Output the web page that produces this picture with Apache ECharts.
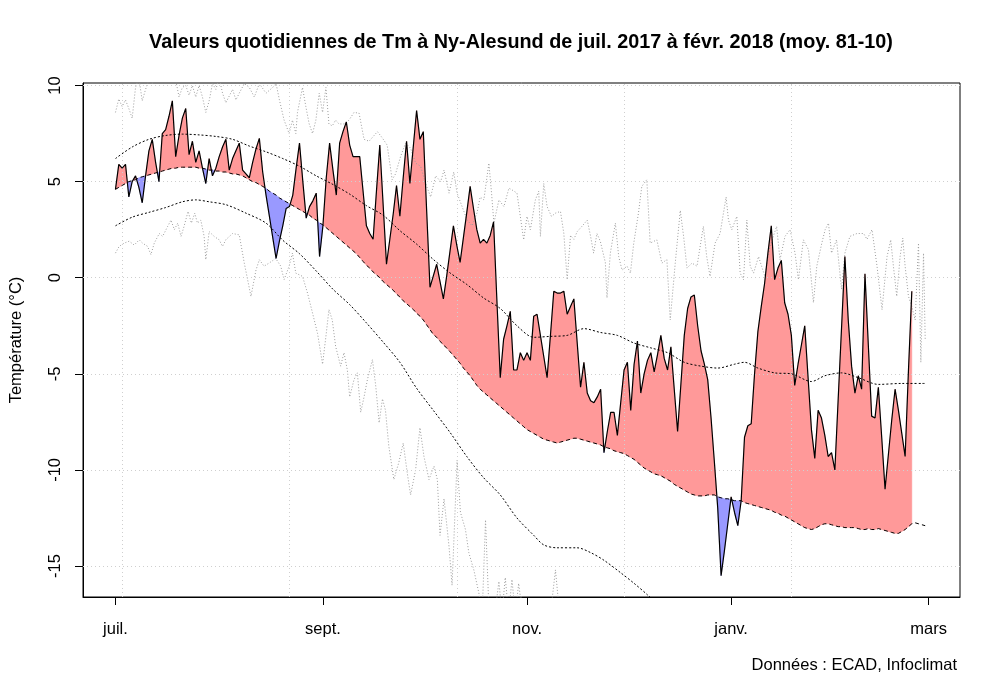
<!DOCTYPE html>
<html><head><meta charset="utf-8">
<script src="https://cdn.jsdelivr.net/npm/echarts@6/dist/echarts.min.js"></script>
<style>html,body{margin:0;padding:0;background:#fff}#c{width:1000px;height:699px}</style>
</head><body><div id="c"></div>
<script>
// x = days since 1 July 2017
const tickDays = [0, 62, 123, 184, 243];
const tickLabels = ['juil.', 'sept.', 'nov.', 'janv.', 'mars'];
const yTicks = [-15, -10, -5, 0, 5, 10];
const gridDays = [2, 52, 102, 152, 202];

// Observed daily Tm (°C), 1 Jul 2017 -> 24 Feb 2018
const tm = [
 4.6, 5.9, 5.7, 5.9, 4.2, 5.0, 5.3, 4.7, 3.9, 5.3,
 6.6, 7.2, 6.0, 5.0, 7.5, 7.7, 8.4, 9.2, 6.3, 7.4,
 8.3, 8.8, 6.4, 7.1, 6.0, 6.6, 5.7, 4.9, 6.2, 5.3,
 5.7, 6.3, 6.8, 7.2, 5.6, 6.2, 6.6, 7.0, 5.6, 5.4,
 5.2, 6.0, 6.7, 7.25, 5.5, 4.3, 3.2, 2.1, 1.0, 1.9,
 2.7, 3.6, 3.7, 4.3, 5.7, 7.0, 5.0, 3.1, 3.7, 4.0,
 4.4, 1.1, 2.7, 5.2, 7.0, 5.6, 4.3, 7.0, 7.6, 8.1,
 6.9, 6.3, 6.3, 6.3, 4.5, 2.7, 2.3, 2.0, 4.5, 6.9,
 3.8, 0.7, 2.0, 3.3, 4.8, 3.2, 5.2, 7.1, 4.9, 6.8,
 8.7, 7.2, 7.6, 3.5, -0.5, 0.1, 0.7, -0.2, -1.1, 0.1,
 1.4, 2.7, 1.7, 0.8, 2.1, 3.4, 4.75, 3.6, 2.5, 1.8,
 2.0, 1.8, 2.2, 2.9, -1.2, -5.2, -3.2, -2.5, -1.75, -4.8,
 -4.8, -3.9, -4.3, -3.9, -4.3, -2.0, -1.9, -3.0, -4.1, -5.2,
 -3.0, -0.7, -0.8, -0.8, -0.7, -1.9, -1.5, -1.1, -3.4, -5.7,
 -4.4, -6.0, -6.4, -6.5, -6.2, -5.8, -9.1, -8.0, -7.0, -7.0,
 -8.2, -6.5, -4.8, -4.4, -6.9, -4.5, -3.3, -6.0, -5.0, -4.3,
 -3.9, -4.9, -4.0, -3.0, -4.2, -4.8, -3.6, -5.8, -8.0, -5.5,
 -3.0, -1.6, -1.0, -0.9, -2.5, -3.8, -4.5, -5.3, -7.3, -9.6,
 -12.0, -15.5, -14.2, -12.8, -11.4, -12.2, -12.9, -11.6, -8.3, -7.7,
 -7.6, -5.0, -2.8, -1.5, -0.3, 1.3, 2.7, -0.1, 0.5, 0.9,
 -1.3, -1.9, -3.0, -5.6, -4.5, -3.5, -2.5, -5.2, -7.9, -9.4,
 -6.9, -7.3, -8.2, -9.3, -9.1, -10.0, -6.3, -2.6, 1.1, -2.2,
 -4.6, -6.0, -5.1, -5.8, 0.2, -3.5, -7.2, -7.3, -5.7, -8.3,
 -11.0, -9.2, -7.4, -5.8, -6.9, -8.1, -9.3, -4.8, -0.7
];

// Normal daily Tm 1981-2010, 1 Jul -> 28 Feb
const normal = [
 4.6, 4.7, 4.8, 4.9, 5.0, 5.05, 5.1, 5.2, 5.25, 5.3, 5.35,
 5.4, 5.45, 5.5, 5.55, 5.6, 5.65, 5.7, 5.7, 5.75, 5.75,
 5.75, 5.75, 5.75, 5.75, 5.7, 5.7, 5.65, 5.6, 5.6, 5.55,
 5.55, 5.5, 5.5, 5.45, 5.4, 5.4, 5.35, 5.3, 5.2, 5.1,
 5.0, 4.95, 4.85, 4.75, 4.65, 4.5, 4.4, 4.3, 4.15, 4.05,
 3.95, 3.85, 3.75, 3.65, 3.55, 3.45, 3.35, 3.25, 3.1, 3.0,
 2.85, 2.75, 2.6, 2.45, 2.3, 2.15, 2.0, 1.85, 1.7, 1.55,
 1.4, 1.25, 1.05, 0.85, 0.65, 0.5, 0.3, 0.15, 0.0, -0.2,
 -0.35, -0.5, -0.65, -0.85, -1.0, -1.2, -1.35, -1.5, -1.65, -1.85,
 -2.0, -2.2, -2.45, -2.7, -2.95, -3.1, -3.3, -3.5, -3.65, -3.85,
 -4.05, -4.25, -4.45, -4.7, -4.9, -5.1, -5.35, -5.6, -5.8, -5.95,
 -6.1, -6.25, -6.4, -6.55, -6.7, -6.85, -7.0, -7.15, -7.3, -7.45,
 -7.6, -7.75, -7.9, -8.0, -8.1, -8.2, -8.3, -8.4, -8.45, -8.5,
 -8.55, -8.6, -8.55, -8.5, -8.45, -8.4, -8.35, -8.35, -8.4, -8.45,
 -8.5, -8.55, -8.6, -8.65, -8.7, -8.8, -8.85, -8.9, -9.0, -9.05,
 -9.1, -9.15, -9.25, -9.35, -9.45, -9.6, -9.75, -9.9, -10.0, -10.1,
 -10.2, -10.25, -10.3, -10.4, -10.5, -10.6, -10.75, -10.85, -10.95, -11.05,
 -11.15, -11.25, -11.3, -11.35, -11.35, -11.35, -11.3, -11.3, -11.3, -11.4,
 -11.45, -11.5, -11.5, -11.55, -11.6, -11.6, -11.6, -11.7, -11.75, -11.8,
 -11.85, -11.9, -11.95, -12.0, -12.05, -12.1, -12.2, -12.25, -12.35, -12.4,
 -12.5, -12.6, -12.7, -12.8, -12.9, -13.0, -13.05, -13.1, -13.05, -12.95,
 -12.85, -12.8, -12.8, -12.85, -12.9, -12.95, -12.95, -13.0, -13.0, -13.0,
 -13.0, -13.05, -13.1, -13.1, -13.05, -13.1, -13.1, -13.05, -13.1, -13.15,
 -13.2, -13.25, -13.3, -13.3, -13.2, -13.1, -12.95, -12.8, -12.75, -12.8, -12.85, -12.9
];

// upper and lower envelope curves (dashed), [day, °C]
const upperCurve = [[0,6.2],[5,6.8],[10,7.2],[15,7.4],[20,7.47],[25,7.43],[30,7.35],[35,7.2],[40,6.85],[45,6.55],[50,6.2],[55,5.8],[60,5.3],[65,4.85],[70,4.35],[75,3.75],[80,3.25],[85,2.45],[90,1.75],[95,0.95],[100,0.25],[105,-0.35],[110,-1.05],[115,-1.6],[120,-2.5],[125,-3.1],[130,-3.05],[135,-3.0],[140,-2.65],[145,-2.85],[150,-3.0],[155,-3.4],[160,-3.65],[165,-3.9],[170,-4.4],[175,-4.6],[180,-4.7],[185,-4.5],[188,-4.4],[192,-4.7],[197,-4.95],[202,-5.0],[208,-5.4],[212,-5.1],[217,-4.95],[222,-5.2],[228,-5.55],[235,-5.5],[242,-5.5]];
const lowerCurve = [[0,2.7],[5,3.15],[10,3.4],[15,3.65],[20,3.95],[24,4.05],[28,3.95],[33,3.8],[39,3.36],[45,2.84],[50,1.95],[55,1.25],[60,0.35],[65,-0.6],[70,-1.4],[75,-2.35],[80,-3.35],[85,-4.4],[90,-5.75],[95,-6.9],[100,-8.05],[105,-9.3],[110,-10.4],[115,-11.3],[120,-12.5],[125,-13.4],[128,-13.9],[132,-14.05],[138,-14.05],[142,-14.3],[146,-14.7],[151,-15.35],[155,-15.9],[159,-16.5],[165,-17.5]];

// daily records (dotted grey), [day, °C]
const recordMax = [[0,8.6],[1,9.3],[2,8.9],[3,9.25],[4,8.8],[5,8.3],[6,9.9],[7,10.4],[8,9.2],[9,9.8],[10,10.3],[11,10.1],[12,10.5],[13,10.3],[14,10.8],[15,10.4],[16,10.9],[17,10.6],[18,10.3],[19,9.4],[20,9.9],[21,10.0],[22,9.5],[23,10.0],[24,9.4],[25,10.0],[26,9.4],[27,8.6],[28,9.2],[29,10.1],[30,9.8],[31,10.4],[32,9.6],[33,9.1],[35,9.8],[36,9.25],[37,9.6],[38.5,10.1],[40,9.9],[41.5,9.4],[43,10.1],[45,9.6],[47,9.9],[48,10.1],[49,9.25],[50.4,8.2],[51.9,7.5],[52.9,8.2],[53.9,7.5],[54.4,8.6],[55.9,9.9],[56.9,8.9],[57.9,8.0],[58.9,7.5],[59.9,8.2],[60.9,9.6],[61.9,8.6],[62.9,9.9],[63.8,8.0],[64.8,7.9],[65.8,8.2],[66.8,8.0],[68.3,8.0],[69.8,8.2],[71.3,8.6],[72.8,8.56],[74.3,7.2],[75.8,7.1],[77.3,7.4],[78.3,7.6],[79.8,7.26],[81.2,6.9],[82.7,5.1],[83.7,5.4],[85.2,6.3],[86.7,7.0],[88.2,6.74],[89.7,5.96],[91.2,5.8],[92.7,4.9],[94.2,4.2],[95.7,5.3],[97.2,5.0],[98.2,5.6],[99.7,4.4],[101.1,5.5],[102.1,4.4],[103.6,3.7],[105.1,3.0],[106.6,2.7],[108.1,3.4],[109,4.2],[110.1,4.05],[111.6,5.96],[112.4,4.4],[113.1,2.84],[114.6,4.05],[116.1,3.7],[117.6,4.66],[118.5,4.57],[120,4.4],[121,3.19],[122,1.97],[123,3.19],[124,2.5],[125.5,4.05],[126.5,4.5],[127,2.15],[128,4.9],[129,3.7],[130.3,3.19],[131.5,3.36],[133,3.45],[134,2.3],[135,-0.1],[136,2.2],[137,2.0],[138,2.4],[139.4,2.67],[141,3.0],[142,2.15],[142.9,1.28],[143.9,2.3],[144.9,1.9],[146.4,0.8],[146.9,-1.05],[147.9,1.28],[149.4,2.84],[150.4,1.1],[151.4,0.4],[152.9,0.6],[153.9,0.24],[154.9,1.8],[156.3,3.36],[157.3,4.75],[158.8,5.1],[159.8,1.8],[161.8,1.97],[163.3,0.76],[164.8,0.94],[165.8,-2.2],[167.3,0.76],[168.8,3.5],[169.8,2.15],[170.8,0.5],[172.3,0.76],[173.8,0.6],[175.7,2.67],[176.7,1.1],[177.7,0.07],[179.2,1.8],[180.7,2.3],[182.5,4.2],[183.2,3.0],[184.2,2.5],[185.7,3.19],[186.7,0.24],[187.7,-0.1],[188.7,3.0],[189.7,0.6],[190.7,0.24],[192.2,1.1],[193.1,0.6],[194.1,0.07],[195.6,1.63],[197.6,2.67],[198.6,0.94],[200.1,2.15],[201.6,2.5],[203.1,1.28],[204.1,-0.1],[205.6,1.97],[207.1,1.46],[208.6,-1.3],[209.6,0.6],[211.1,1.8],[212.1,2.5],[213.1,2.84],[214,1.28],[215.5,1.97],[217,-0.6],[218,1.28],[219.5,2.15],[221.6,2.3],[223.6,2.3],[224.6,2.0],[226.1,2.5],[227.6,0.6],[229.1,-1.66],[230.6,1.1],[231.7,1.97],[232.5,0.6],[233.5,-0.97],[234.5,1.1],[235.3,2.06],[236,0.6],[237,-0.97],[238,-1.5],[239,-2.2],[240,1.8],[240.7,-4.4],[241.5,1.28],[242,-3.2]];
const recordMin = [[0,1.28],[1.1,1.63],[2.6,1.8],[4.1,1.9],[5.6,1.7],[7.1,1.97],[8.1,1.8],[9.6,1.63],[10.6,1.2],[11.6,1.8],[13.1,2.3],[14.1,2.15],[15.6,2.67],[16.6,3.0],[17.6,2.5],[18.6,2.84],[19.6,2.15],[20.5,2.67],[21.7,3.45],[22.7,2.84],[23.7,3.36],[24.5,2.84],[25.5,3.0],[26.5,2.15],[27,0.94],[28,2.4],[29.5,2.15],[31,1.97],[32,1.63],[33,1.98],[35,2.3],[37,2.23],[38.5,0.76],[40.5,-0.97],[42,0.4],[43,0.94],[44.4,0.6],[45.9,0.76],[47.9,1.0],[49.4,0.6],[50.4,-0.1],[51.9,0.6],[52.9,1.28],[53.9,0.24],[55.9,0.07],[57.4,-0.8],[58.9,-1.84],[60.4,-2.9],[61.9,-4.5],[62.9,-3.05],[63.8,-1.66],[64.8,-2.2],[65.8,-3.57],[67.3,-4.6],[68.3,-3.9],[69.3,-4.8],[70,-6.2],[71.3,-5.3],[72.3,-4.95],[73.3,-7.0],[74.3,-6.2],[75.3,-5.3],[76.8,-4.26],[77.8,-5.65],[78.8,-7.55],[79.8,-6.3],[80.7,-6.9],[81.7,-8.77],[83.2,-10.5],[84.7,-9.6],[86,-8.6],[87.2,-10.15],[88.2,-11.3],[89.7,-10.0],[91,-7.8],[92.2,-9.3],[93.7,-10.5],[95.2,-9.8],[96.2,-10.5],[97,-13.4],[98.2,-11.5],[99.7,-14.0],[100.6,-16.0],[102.1,-9.5],[103.1,-12.2],[104.6,-13.1],[105.6,-14.3],[107.1,-15.2],[108.6,-16.4],[109.6,-17.5],[110.6,-12.6],[111.6,-17.2],[113,-18],[114.6,-15.8],[115.5,-17.5],[116.5,-15.6],[117.5,-17.5],[118.5,-15.7],[119.5,-17.5],[120.5,-15.9],[122,-18],[126,-19],[130,-17.5],[131.5,-15.2],[133,-18],[137,-20]];

const RED = '#FF9999', BLUE = '#9999FF';

// One item draws the whole anomaly band: runs of same sign merged into single polygons
function renderFill(params, api) {
  if (params.dataIndex !== 0) return null;
  const n = tm.length;
  const diff = k => { const d = tm[k] - normal[k]; return Math.abs(d) < 1e-9 ? 0 : d; };
  const polys = [];
  let top = [[0, tm[0]]], bot = [[0, normal[0]]];
  let up = diff(0) !== 0 ? diff(0) > 0 : null;
  const close = () => {
    if (top.length + bot.length >= 3) polys.push({ pts: top.concat(bot.slice().reverse()), up: up !== false });
  };
  for (let i = 0; i < n - 1; i++) {
    const a0 = tm[i], a1 = tm[i + 1], n1 = normal[i + 1];
    const d0 = diff(i), d1 = diff(i + 1);
    if (d0 * d1 < 0) {
      const f = d0 / (d0 - d1);
      const xc = i + f, yc = a0 + f * (a1 - a0);
      top.push([xc, yc]);
      up = d0 > 0;
      close();
      top = [[xc, yc], [i + 1, a1]];
      bot = [[i + 1, n1]];
      up = d1 > 0;
    } else {
      top.push([i + 1, a1]);
      bot.push([i + 1, n1]);
      if (up === null && d1 !== 0) up = d1 > 0;
      if (d1 === 0) {
        close();
        top = [[i + 1, a1]];
        bot = [[i + 1, n1]];
        up = null;
      }
    }
  }
  close();
  return {
    type: 'group',
    children: polys.map(p => ({
      type: 'polygon', silent: true,
      shape: { points: p.pts.map(q => api.coord(q)) },
      style: { fill: p.up ? RED : BLUE, stroke: p.up ? RED : BLUE, lineWidth: 0.5 }
    }))
  };
}

const FONT = '"Liberation Sans", Arial, sans-serif';
const chart = echarts.init(document.getElementById('c'), null, { renderer: 'canvas' });
chart.setOption({
  animation: false,
  backgroundColor: '#ffffff',
  grid: { left: 82, right: 40, top: 83, bottom: 102, show: true, borderColor: '#000', borderWidth: 1, backgroundColor: 'transparent' },
  graphic: [
    { type: 'text', x: 521, y: 43, style: { text: 'Valeurs quotidiennes de Tm à Ny-Alesund de juil. 2017 à févr. 2018 (moy. 81-10)', font: 'bold 19.8px ' + FONT, fill: '#000', align: 'center', verticalAlign: 'middle', textAlign: 'center', textVerticalAlign: 'middle' } },
    { type: 'text', x: 957, y: 665, style: { text: 'Données : ECAD, Infoclimat', font: '16.5px ' + FONT, fill: '#000', align: 'right', verticalAlign: 'middle', textAlign: 'right', textVerticalAlign: 'middle' } }
  ],
  xAxis: {
    type: 'value', min: -9.7, max: 252.4,
    axisLine: { show: true, onZero: false, lineStyle: { color: '#000', width: 1 } },
    axisTick: { show: true, customValues: tickDays, length: 8, inside: false, lineStyle: { color: '#000' } },
    axisLabel: { show: true, customValues: tickDays, margin: 24, fontSize: 16.5, fontFamily: FONT, color: '#000',
      formatter: v => tickLabels[tickDays.indexOf(v)] || '' },
    splitLine: { show: false }
  },
  yAxis: {
    type: 'value', min: -16.61, max: 10.13,
    name: 'Température (°C)', nameLocation: 'middle', nameGap: 58, nameRotate: 90,
    nameTextStyle: { fontSize: 16.5, fontFamily: FONT, color: '#000' },
    axisLine: { show: true, onZero: false, lineStyle: { color: '#000', width: 1 } },
    axisTick: { show: true, customValues: yTicks, length: 8, inside: false, lineStyle: { color: '#000' } },
    axisLabel: { show: true, customValues: yTicks, rotate: 90, margin: 19, fontSize: 16.5, fontFamily: FONT, color: '#000' },
    splitLine: { show: false }
  },
  series: [
    {
      type: 'custom', renderItem: renderFill, z: 1, silent: true, clip: true,
      encode: { x: 0, y: 1 },
      data: tm.map((v, i) => [i, v])
    },
    {
      type: 'line', data: [], z: 2, silent: true, symbol: 'none',
      markLine: {
        silent: true, symbol: ['none', 'none'], label: { show: false }, animation: false,
        lineStyle: { color: '#cfcfcf', width: 1, type: [1, 3] },
        emphasis: { disabled: true },
        data: yTicks.map(v => ({ yAxis: v })).concat(gridDays.map(d => ({ xAxis: d })))
      }
    },
    { type: 'line', data: recordMax, z: 3, symbol: 'none', silent: true, lineStyle: { color: '#9c9c9c', width: 1, type: [1, 2] } },
    { type: 'line', data: recordMin, z: 3, symbol: 'none', silent: true, lineStyle: { color: '#9c9c9c', width: 1, type: [1, 2] } },
    { type: 'line', data: upperCurve, z: 4, symbol: 'none', silent: true, smooth: 0.3, lineStyle: { color: '#000', width: 1, type: [2, 2] } },
    { type: 'line', data: lowerCurve, z: 4, symbol: 'none', silent: true, smooth: 0.3, lineStyle: { color: '#000', width: 1, type: [2, 2] } },
    { type: 'line', data: normal.map((v, i) => [i, v]), z: 5, symbol: 'none', silent: true, lineStyle: { color: '#000', width: 1, type: [4, 3] } },
    { type: 'line', data: tm.map((v, i) => [i, v]), z: 6, symbol: 'none', silent: true, lineStyle: { color: '#000', width: 1.2 } }
  ]
});
</script>
</body></html>
